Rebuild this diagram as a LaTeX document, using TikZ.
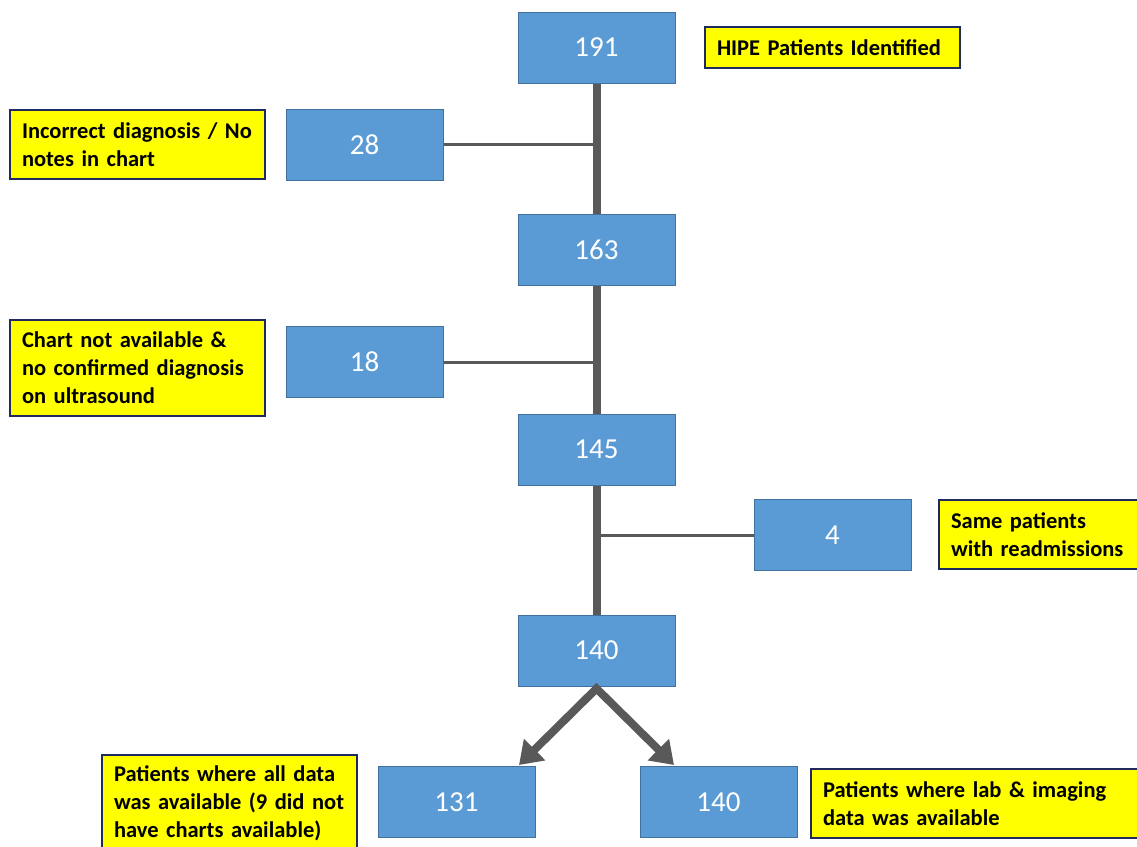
\documentclass[tikz,border=0pt]{standalone}
\usepackage{fontspec}
\setmainfont{Carlito}
\usetikzlibrary{arrows.meta}
\definecolor{boxblue}{HTML}{5B9BD5}
\definecolor{boxedge}{HTML}{41719C}
\definecolor{noteyellow}{HTML}{FFFF00}
\definecolor{noteedge}{HTML}{1F2A60}
\definecolor{linegray}{HTML}{595959}
\begin{document}
\begin{tikzpicture}[x=1pt,y=-1pt,
  num/.style={draw=boxedge, line width=1pt, fill=boxblue, minimum width=157pt, minimum height=71pt, inner sep=0pt, text=white, font=\fontsize{29}{34}\selectfont},
  note/.style={draw=noteedge, line width=2pt, fill=noteyellow, inner xsep=12pt, inner ysep=0pt, align=left, font=\fontsize{22.5}{28}\selectfont\bfseries},
  trunk/.style={draw=linegray, line width=8pt},
  branch/.style={draw=linegray, line width=3pt},
  flow/.style={draw=linegray, line width=8pt, line join=miter, {Triangle[width=29pt,length=22pt]}-{Triangle[width=29pt,length=22pt]}}]
\useasboundingbox (0,0) rectangle (1137,846);
% main boxes
\node[num] (n191) at (596.5,47.5) {191};
\node[num] (n28) at (364.5,144.5) {28};
\node[num] (n163) at (596.5,250) {163};
\node[num] (n18) at (364.5,362) {18};
\node[num] (n145) at (596.5,449.5) {145};
\node[num] (n4) at (832.5,535) {4};
\node[num] (n140) at (596.5,650.5) {140};
\node[num] (n131) at (456.5,802) {131};
\node[num] (n140b) at (718.5,802) {140};
% notes
\node[note, text width=231pt, minimum height=41pt] (t191) at (832.5,47.5) {HIPE Patients Identified};
\node[note, text width=231pt, minimum height=69pt] (t28) at (137.5,144.5) {Incorrect diagnosis / No\\notes in chart};
\node[note, text width=231pt, minimum height=96pt] (t18) at (137.5,368) {Chart not available \&\\no confirmed diagnosis\\on ultrasound};
\node[note, text width=231pt, minimum height=69pt] (t4) at (1066.5,534.5) {Same patients\\with readmissions};
\node[note, text width=231pt, minimum height=96pt] (t131) at (229.5,803) {Patients where all data\\was available (9 did not\\have charts available)};
\node[note, text width=320pt, minimum height=69pt] (t140b) at (983,803.5) {Patients where lab \& imaging\\data was available};
% trunk
\draw[trunk] (n191.south) -- (n163.north);
\draw[trunk] (n163.south) -- (n145.north);
\draw[trunk] (n145.south) -- (n140.north);
% side branches
\draw[branch] (n28.east) -- (n191.south |- n28.east);
\draw[branch] (n18.east) -- (n163.south |- n18.east);
\draw[branch] (n4.west) -- (n145.south |- n4.west);
% split arrows
\coordinate (a1) at (519,765);
\coordinate (a2) at (674,765);
\draw[flow] (a1) -- ([yshift=-2pt]n140.south) -- (a2);
\end{tikzpicture}
\end{document}
